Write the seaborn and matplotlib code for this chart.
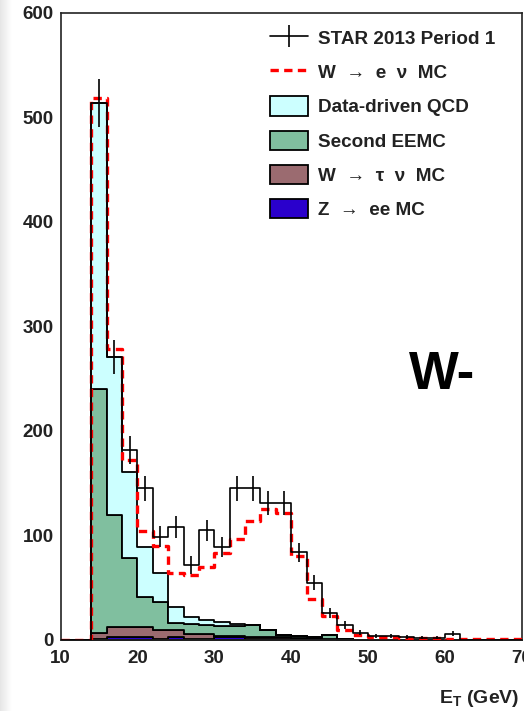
import numpy as np
import pandas as pd
import matplotlib
matplotlib.use("Agg")
import matplotlib.pyplot as plt
from matplotlib.lines import Line2D
from matplotlib.patches import Patch
from matplotlib.ticker import MultipleLocator
import seaborn as sns

# ---------------- data (2 GeV bins from 10 to 70 GeV) ----------------
bin_width = 2
et_range = (10, 70)
star_data = [0, 0, 514, 271, 182, 145, 99, 108, 72, 105, 89, 145, 145, 131, 131,
             84, 55, 26, 14, 7, 4, 4, 3, 2, 2, 6, 0, 0, 0, 0]
w_enu_mc = [0, 0, 519, 278, 172, 104, 90, 64, 62, 70, 83, 97, 114, 125, 122,
            80, 39, 23, 10, 5, 3, 3, 2, 2, 1.5, 1, 1, 1, 1, 1]
qcd = [0, 0, 274, 151, 83, 47.5, 28, 16, 7, 5.5, 4, 2, 0.5, 0, 0,
       0, 0, 0, 0, 0, 0, 0, 0, 0, 0, 0, 0, 0, 0, 0]
second_eemc = [0, 0, 233, 108, 66, 29.5, 26, 6, 9.5, 8.5, 9.5, 9.5, 11, 7, 2.5,
               2, 0.5, 4, 0.5, 0, 0, 0, 0, 0, 0, 0, 0, 0, 0, 0]
w_taunu = [0, 0, 6, 9, 9, 9, 9, 7, 4.5, 4.5, 0.5, 0.5, 2, 2, 1.5,
           1, 0.5, 0.5, 0.5, 0, 0, 0, 0, 0, 0, 0, 0, 0, 0, 0]
z_ee = [0, 0, 1, 3, 3, 3, 1, 3, 1, 1, 3, 3, 1, 1, 1,
        1, 2, 0.5, 0, 0, 0, 0, 0, 0, 0, 0, 0, 0, 0, 0]

label_data = "STAR 2013 Period 1"
label_wenu = "W  \u2192  e  \u03bd  MC"
stack_labels = ["Data-driven QCD", "Second EEMC", "W  \u2192  \u03c4  \u03bd  MC", "Z  \u2192  ee MC"]
stack_colors = ["#ccffff", "#80bf9f", "#9b6b70", "#2a00cc"]
x_ticks = [10, 20, 30, 40, 50, 60, 70]
y_ticks = [0, 100, 200, 300, 400, 500, 600]

# ---------------- style ----------------
sns.set_style("white")
plt.rcParams["font.family"] = ["Liberation Sans", "DejaVu Sans"]
plt.rcParams["font.weight"] = "bold"
plt.rcParams["mathtext.fontset"] = "custom"
plt.rcParams["mathtext.rm"] = "Liberation Sans:bold"
plt.rcParams["mathtext.bf"] = "Liberation Sans:bold"
plt.rcParams["mathtext.it"] = "Liberation Sans:bold"

W, H = 524, 711
fig = plt.figure(figsize=(W / 100, H / 100), dpi=100)
fig.patch.set_facecolor("white")

# faint page shadow along the left edge (screenshot look)
bg = fig.add_axes([0, 0, 12 / W, 1], zorder=-5)
grad = np.linspace(0.9, 1.0, 64)[None, :]
bg.imshow(grad, cmap="gray", vmin=0, vmax=1, aspect="auto", extent=(0, 1, 0, 1))
bg.set_axis_off()

ax = fig.add_axes([60.5 / W, 1 - 640 / H, (522 - 60.5) / W, 627 / H])

centers = np.arange(et_range[0], et_range[1], bin_width) + bin_width / 2
stack_df = pd.DataFrame({
    "ET": np.tile(centers, len(stack_labels)),
    "events": np.concatenate([qcd, second_eemc, w_taunu, z_ee]),
    "source": np.repeat(stack_labels, len(centers)),
})
hist_kw = dict(binwidth=bin_width, binrange=et_range, element="step")

sns.histplot(data=stack_df, x="ET", weights="events", hue="source",
             hue_order=stack_labels, palette=dict(zip(stack_labels, stack_colors)),
             multiple="stack", fill=True, alpha=1, edgecolor="black",
             linewidth=1.3, legend=False, ax=ax, **hist_kw)

line_df = pd.DataFrame({"ET": centers, "wenu": w_enu_mc, "star": star_data})
sns.histplot(data=line_df, x="ET", weights="wenu", fill=False, color="#ff0000",
             linewidth=2.4, linestyle=(0, (2.5, 1.6)), ax=ax, zorder=4, **hist_kw)
sns.histplot(data=line_df, x="ET", weights="star", fill=False, color="black",
             linewidth=1.2, ax=ax, zorder=5, **hist_kw)

data_arr = np.array(star_data, dtype=float)
mask = data_arr > 0
ax.errorbar(centers[mask], data_arr[mask], yerr=np.sqrt(data_arr[mask]),
            fmt="none", ecolor="black", elinewidth=1.2, capsize=0, zorder=6)

ax.set_xlim(10, 70)
ax.set_ylim(0, 600)
ax.set_xlabel("")
ax.set_ylabel("")
ax.set_xticks(x_ticks)
ax.set_yticks(y_ticks)
ax.xaxis.set_minor_locator(MultipleLocator(2))
ax.yaxis.set_minor_locator(MultipleLocator(20))
ax.tick_params(which="both", direction="in", colors="#222222", width=1.0,
               top=False, right=False)
ax.tick_params(which="major", length=12.5)
ax.tick_params(which="minor", length=6)
ax.tick_params(axis="x", which="major", pad=7, labelsize=13.5)
ax.tick_params(axis="y", which="major", pad=5, labelsize=13.5)
for lab in ax.get_xticklabels() + ax.get_yticklabels():
    lab.set_fontweight("bold")
for s in ax.spines.values():
    s.set_linewidth(1.2)
    s.set_color("#222222")
ax.set_facecolor("white")

# big label
ax.text(59.6, 254, "W-", fontsize=38, fontweight="bold", ha="center",
        va="center", color="black")

# axis title
fig.text(519 / W, 1 - 703 / H, r"E$_{\mathrm{T}}$ (GeV)", ha="right",
         va="baseline", fontsize=14, fontweight="bold", color="#222222")

# legend
handles = [
    Line2D([], [], color="black", lw=1.2, marker="|", markersize=16,
           markeredgewidth=1.2),
    Line2D([], [], color="#ff0000", lw=2.4, linestyle=(0, (2.5, 1.6))),
] + [Patch(facecolor=c, edgecolor="black", linewidth=1.3) for c in stack_colors]
leg = ax.legend(handles, [label_data, label_wenu] + stack_labels,
                loc="upper left", bbox_to_anchor=(270 / W, 1 - 28 / H),
                bbox_transform=fig.transFigure, frameon=False,
                prop={"size": 13.6, "weight": "bold"}, borderpad=0,
                borderaxespad=0, handlelength=2.0, handleheight=1.2,
                handletextpad=0.53, labelspacing=0.75)
for t in leg.get_texts():
    t.set_color("#222222")

fig.savefig("out.png", dpi=100)
